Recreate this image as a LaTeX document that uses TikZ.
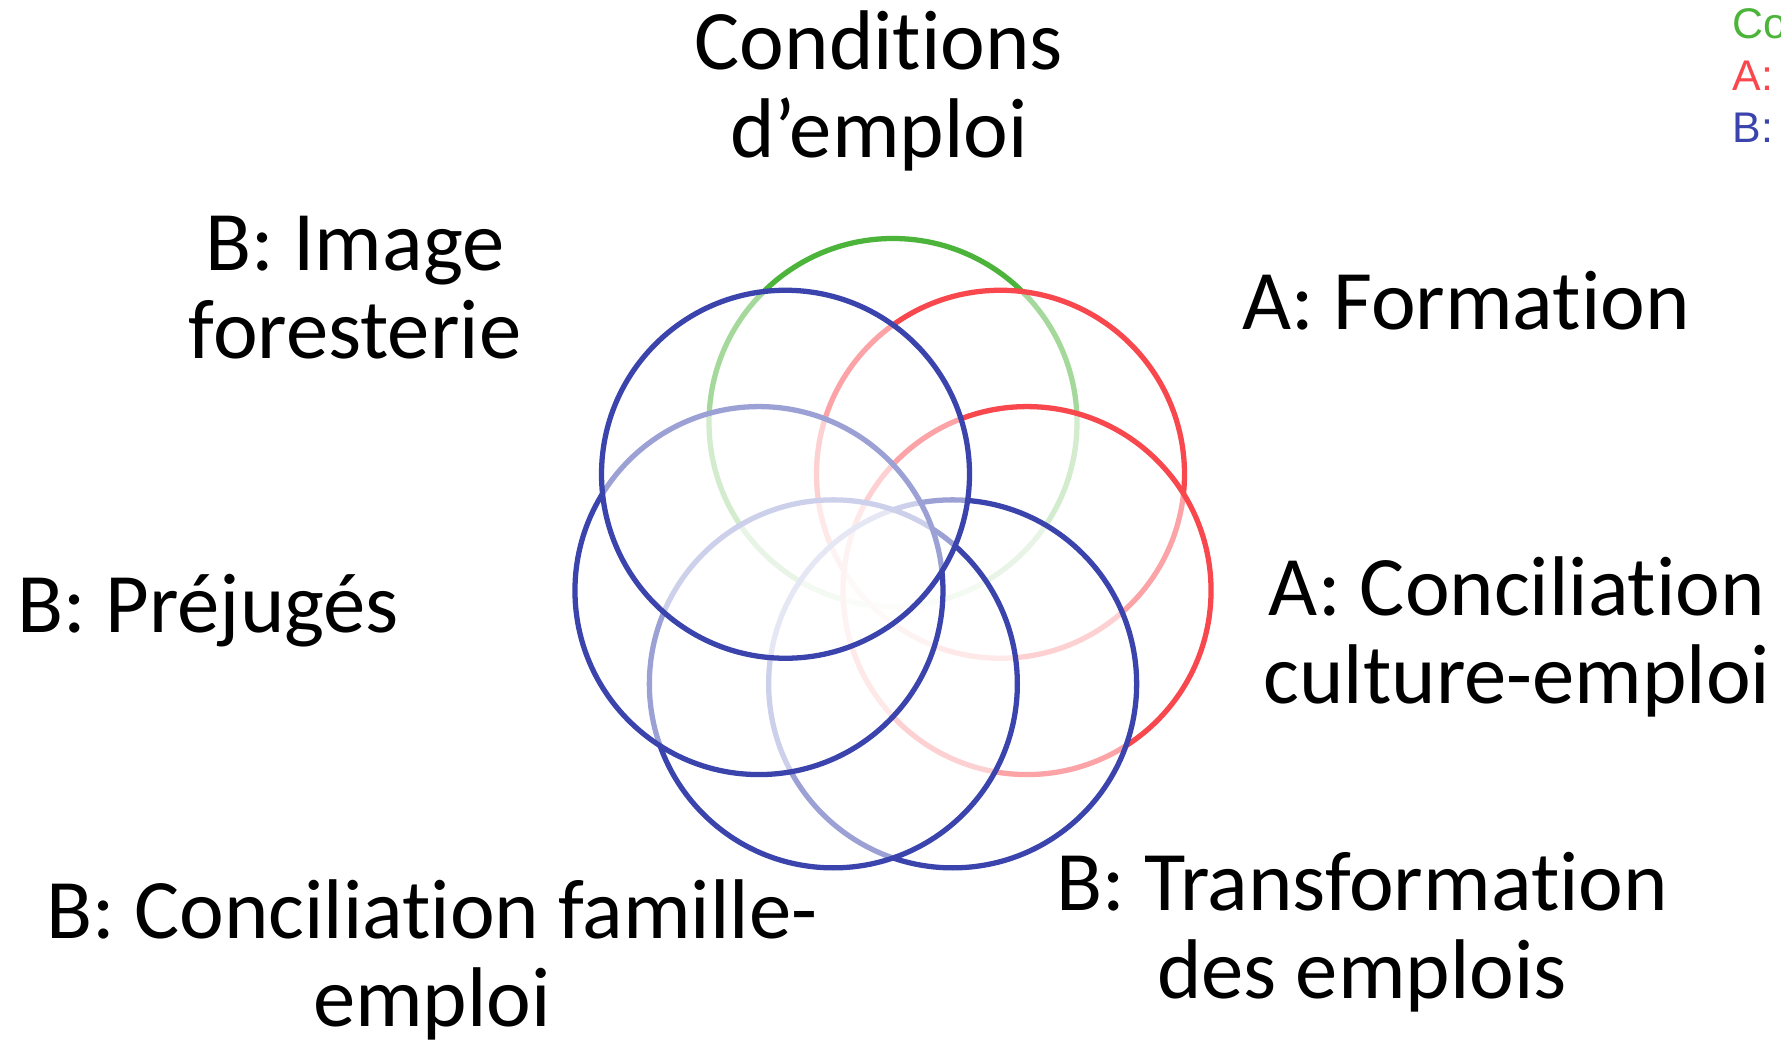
\documentclass[tikz,border=0pt]{standalone}
\usepackage{fontspec}
\setmainfont{Carlito}[Ligatures=NoCommon]
\newfontfamily\legendfont{Liberation Sans}
\definecolor{vgreen}{HTML}{4CB43A}
\definecolor{vred}{HTML}{F8484D}
\definecolor{vblue}{HTML}{3A44AC}
\tikzset{
  ring/.style={draw=#1,line width=1.5pt,fill=white,fill opacity=.5},
  lbl/.style={font=\fontsize{24.1}{25.3}\selectfont,align=center,anchor=base}
}
\begin{document}
\begin{tikzpicture}
\useasboundingbox(0,0)rectangle(17.81,10.43);
\coordinate(o)at(8.93,4.83);
% rings, last one on top
\draw[ring=vgreen](o)++(90:1.375)circle(1.84);
\draw[ring=vred](o)++(38.57:1.375)circle(1.84);
\draw[ring=vred](o)++(-12.86:1.375)circle(1.84);
\draw[ring=vblue](o)++(-64.29:1.375)circle(1.84);
\draw[ring=vblue](o)++(-115.71:1.375)circle(1.84);
\draw[ring=vblue](o)++(-167.14:1.375)circle(1.84);
\draw[ring=vblue](o)++(141.43:1.375)circle(1.84);
% labels (base = last line)
\node[lbl](cond)at(8.79,8.85){Conditions\\d’emploi};
\node[lbl](image)at(3.55,6.84){B: Image\\foresterie};
\node[lbl,anchor=base west](form)at(12.30,7.13){A: Formation};
\node[lbl](cult)at(15.17,3.39){A: Conciliation\\culture-emploi};
\node[lbl,anchor=base west](prej)at(0.05,4.10){B: Préjugés};
\node[lbl](fam)at(4.32,0.16){B: Conciliation famille-\\emploi};
\node[lbl](trans)at(13.62,0.44){B: Transformation\\des emplois};
\node[font=\legendfont\fontsize{12.2}{14.9}\selectfont,align=left,anchor=base west,inner sep=0pt](key)at(17.32,9.00){\textcolor{vgreen}{Co}\\\textcolor{vred}{A:}\\\textcolor{vblue}{B:}};
\end{tikzpicture}
\end{document}
